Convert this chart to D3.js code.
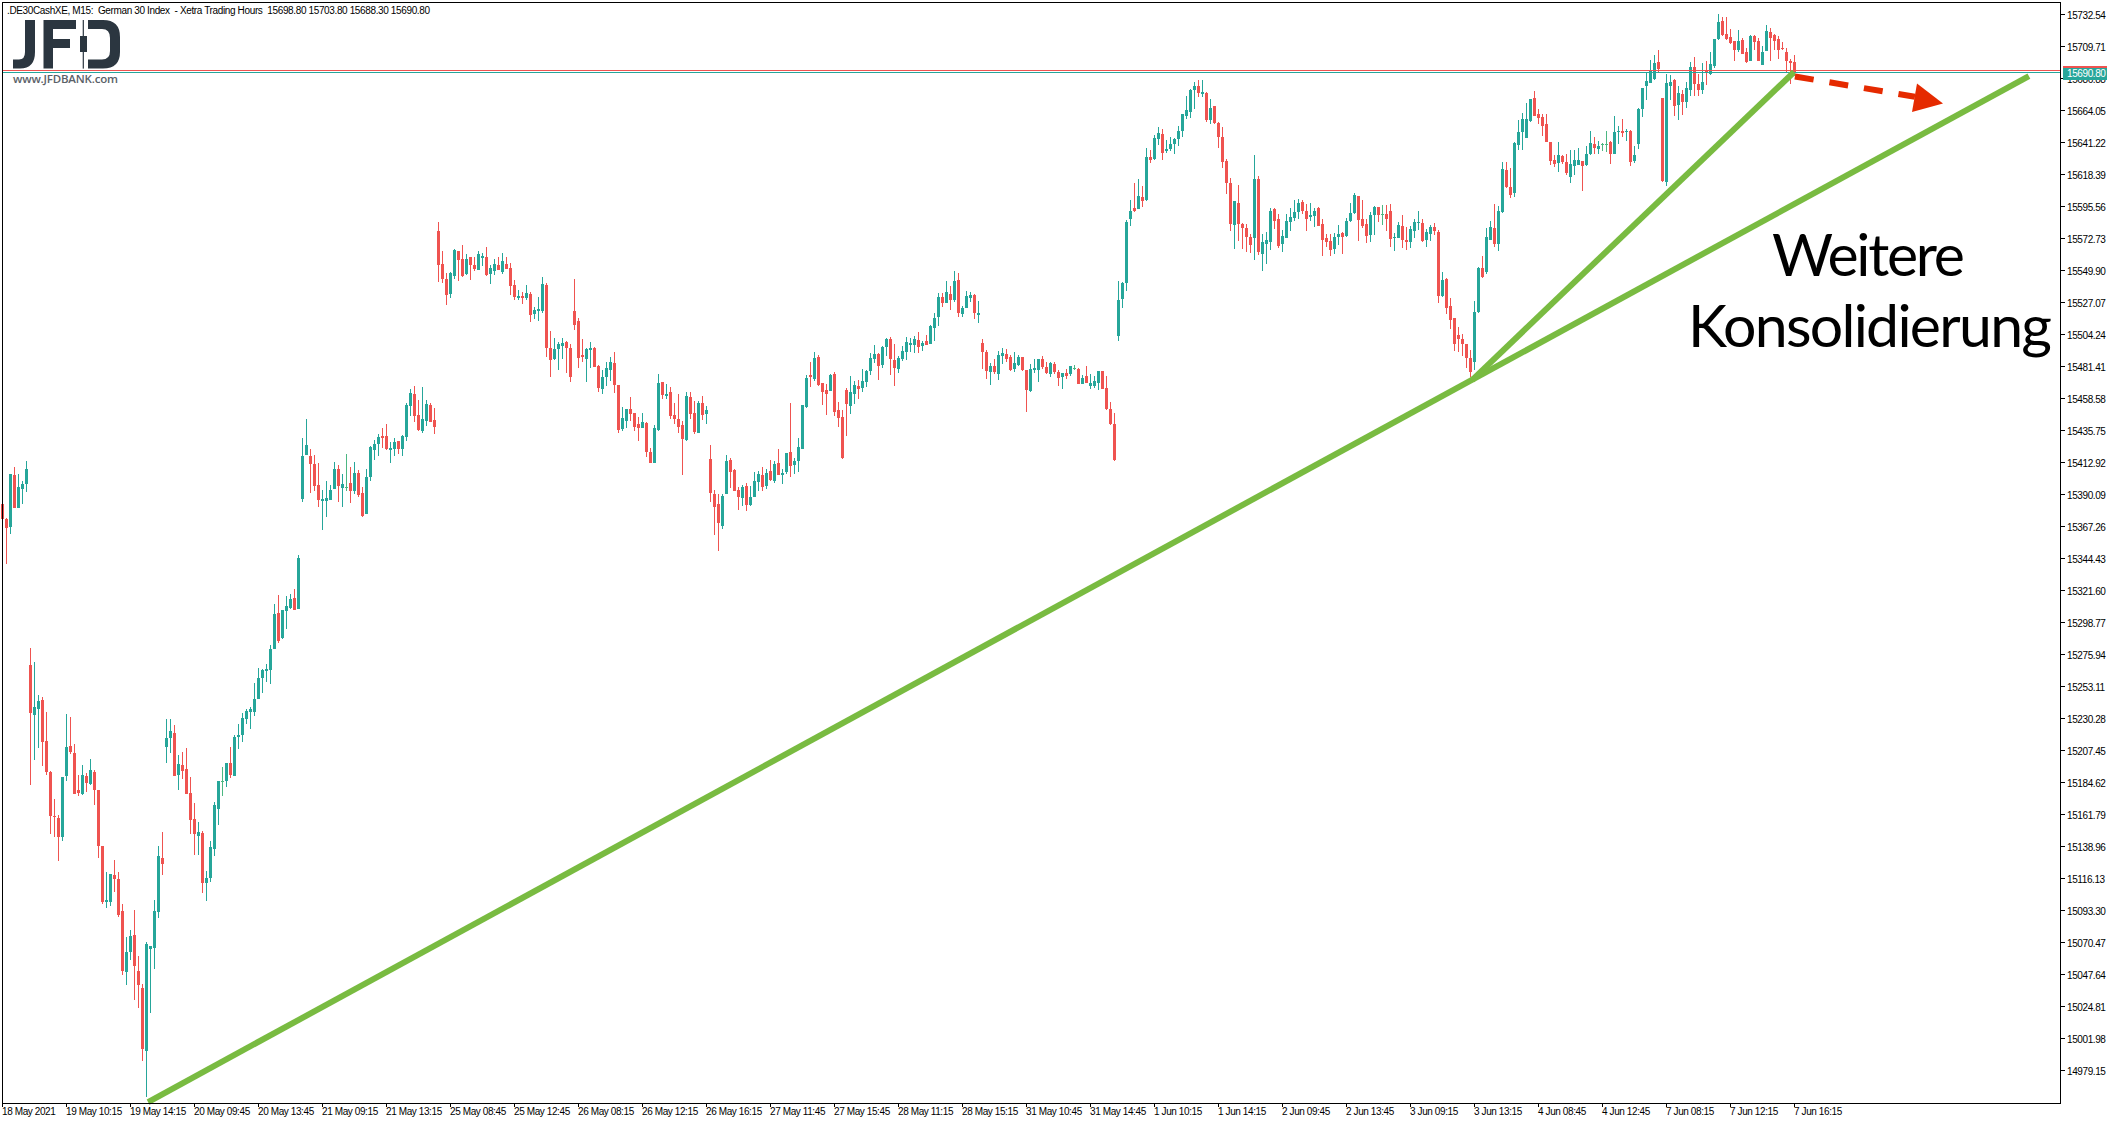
<!DOCTYPE html>
<html><head><meta charset="utf-8">
<script src="https://cdn.jsdelivr.net/npm/d3@7/dist/d3.min.js"></script>
<style>
html,body{margin:0;padding:0;background:#fff;overflow:hidden}
svg{display:block}
text{font-family:"Liberation Sans",Arial,sans-serif;white-space:pre}
</style></head><body><div id="chart"></div>
<script>
// Every row is one M15 candle: open, high, low, close
const session1=[[15383.5,15383.5,15372.8,15372.8],[15372.8,15373.3,15340.6,15366.1],[15366.6,15404.5,15361.8,15404.5],[15404,15409.7,15380.5,15380.5],[15380.5,15404.5,15380.5,15395.3],[15393.8,15399.7,15383.3,15397.4],[15397.6,15414,15391.7,15408.4]];
const session2=[[15268.4,15280.5,15182.7,15234.4],[15232.4,15270.5,15200.6,15238.5],[15237,15246.9,15209.3,15242.6],[15243.4,15245.4,15196.3,15213.4],[15214.2,15234.9,15190.1,15192.2],[15192.2,15192.7,15147.9,15160.7],[15160.7,15172.7,15145.3,15159.9],[15159.2,15161.4,15128.2,15145.3],[15145.3,15188.6,15143,15188.6],[15189.1,15233.4,15185.2,15209.8],[15210.6,15231.3,15205,15206.2],[15205.5,15212.2,15176.3,15176.3],[15179.1,15190.1,15175,15177.1],[15176.3,15197,15175.3,15189.9],[15189.1,15191.4,15177.8,15184.2],[15183.7,15201.4,15182.9,15193.4],[15192.2,15193.4,15168.6,15179.1],[15179.1,15179.1,15130.7,15139.2],[15139.2,15139.2,15098,15099.5],[15099.5,15120.7,15094.6,15100.8],[15099.5,15119.2,15096.2,15119.2],[15118.7,15129.2,15106.4,15115.9],[15115.9,15120.7,15088.2,15090],[15092.8,15098,15047.3,15050.1],[15049.6,15074.4,15040.1,15063.6],[15063.6,15079.5,15058,15075.2],[15075.9,15093.6,15029.6,15053.7],[15050.1,15060.8,15023.7,15040.1],[15038,15040.9,14986.1,14994.5],[14993.2,15070.8,14960.2,15069.5],[15066,15068,15020.1,15068],[15066.5,15100.8,15051.6,15092.8],[15092.3,15139.2,15088,15132.3],[15130.7,15149.2,15118.7,15126.4]];
const session3=[[15209.8,15229.8,15198.6,15216.2],[15216.2,15229.8,15205.5,15221.3],[15219.8,15225.4,15189.1,15189.1],[15189.9,15204.2,15179.1,15197.8],[15197,15206.2,15187,15192.7],[15194.2,15209.1,15176.3,15176.3],[15177.1,15188.6,15147.9,15157.9],[15158.6,15169.9,15132.5,15147.9],[15146.3,15156.3,15132.5,15149.2],[15148.6,15149.9,15105.9,15112.8],[15112.8,15121.5,15100,15116.4],[15116.4,15143,15113.6,15138.7],[15137.2,15170.4,15132.3,15168.6],[15165.8,15185.5,15154.3,15185.5],[15185.5,15195.2,15175,15185.5],[15185.5,15198.6,15181.4,15198.6],[15198.6,15209.8,15187.8,15189.9],[15189.1,15218.5,15189.1,15217],[15217,15226.2,15208.5,15218.5],[15218.5,15234.2,15213.4,15230.6],[15229.8,15237.2,15226.2,15235.7],[15234.9,15238,15222.4,15237],[15234.9,15255.4,15231.8,15244.2],[15244.2,15266.2,15244.2,15259],[15259,15265.4,15248.5,15264.4],[15264.1,15269.2,15256.2,15265.4],[15264.9,15282.3,15254.9,15279.7],[15279.7,15311.7,15279.7,15304.8],[15305.3,15318.6,15284.1,15285.3],[15287.6,15307.6,15286.9,15307.6],[15306.8,15317.6,15294,15310.4],[15308.9,15318.9,15308.4,15315.3],[15316.1,15322.2,15307.6,15307.6],[15308.6,15347,15308.6,15345]];
const session4=[[15386.7,15430.4,15384.6,15417.4],[15418.2,15444,15418.2,15425.1],[15417.4,15422.3,15391,15412],[15411.5,15418.2,15392.3,15395.9],[15396.7,15412.5,15380.8,15385.9],[15385.1,15393.1,15364.4,15386.7],[15385.1,15399.5,15373.6,15387.2],[15385.9,15396.7,15385.9,15393.1],[15393.8,15413,15393.8,15408.2],[15408.2,15411,15384.4,15395.9],[15394.6,15404.6,15380.8,15397.2],[15395.6,15418.9,15392.3,15395.6],[15398.2,15409.5,15383.9,15392.8],[15392.3,15413,15390.5,15405.3],[15405.3,15407.4,15388.5,15389.3],[15391,15395.1,15373.6,15374.4],[15375.7,15408.2,15375.7,15402.3],[15402.3,15424.3,15399.5,15423.8],[15421.7,15428.7,15414.6,15426.1],[15426.1,15433,15417.4,15431],[15431.7,15437.4,15423,15430.4],[15431.7,15440.4,15421.7,15422.5],[15421.7,15427.4,15412.6,15423],[15422.5,15430.2,15417.4,15427.4],[15428.1,15428.1,15418.9,15422.5],[15422.5,15432.5,15417.4,15431.7],[15431,15455.5,15428.1,15454],[15453.2,15465.5,15446.1,15462.7],[15461.9,15467.6,15441.7,15446.1],[15446.8,15457.6,15435.3,15436.1],[15435.3,15466.3,15434,15444],[15442.5,15457.1,15439.1,15454.8],[15454,15455.5,15441.7,15441.7],[15443.3,15451.9,15433.3,15438.1]];
const session5=[[15578,15584.4,15541.8,15553.7],[15554.4,15563.7,15541.1,15543.7],[15543.7,15548,15525.2,15532.3],[15533,15548.7,15530.2,15548],[15545.8,15565.1,15543.7,15564.4],[15563.7,15563.7,15542.3,15557.2],[15558,15568,15545.1,15545.8],[15547.3,15561.5,15546.5,15558],[15559.4,15559.4,15543,15553.7],[15553.7,15559.4,15549.4,15550.8],[15550.1,15563.7,15550.1,15561.5],[15558.7,15562.2,15553,15560],[15559.4,15566.5,15545.8,15546.5],[15547.3,15553.7,15540.1,15551.5],[15549.4,15558,15546.5,15554.4],[15553.7,15559.4,15550.1,15550.1],[15548.7,15562.2,15547.3,15556.5],[15554.4,15559.4,15550.8,15550.8],[15551.5,15555.1,15532.3,15538.7],[15539.4,15543,15528.7,15530.8],[15530.2,15535.8,15528.7,15531.5],[15531.5,15534.4,15525.8,15530.2],[15530.2,15539.4,15528.7,15533.7],[15533,15534.4,15513,15518],[15518.7,15523.7,15515.2,15521.6],[15520.9,15530.8,15513.7,15522.3],[15520.9,15545.1,15519.4,15540.1],[15539.4,15540.8,15488,15494.5],[15494.5,15506.6,15473.8,15485.9],[15486.6,15501.6,15485.9,15493.8],[15493.8,15498.7,15478.8,15497.3],[15495.9,15501.6,15486.6,15498],[15498.7,15499.4,15476.6,15494.5],[15494.5,15497.3,15470.2,15473.8],[15520.9,15543.7,15507.3,15510.9],[15513.7,15515.9,15480.2,15487.3],[15489.5,15500.9,15484.5,15488],[15486.6,15494.5,15470.2,15493.8],[15493,15498.7,15480.2,15494.5],[15494.5,15495.2,15480.9,15480.9],[15481.6,15482.3,15463.1,15465.9],[15465.2,15478.8,15461.6,15473.8],[15473.8,15484.5,15467.3,15480.2],[15478.8,15488,15470.9,15484.5],[15483.8,15491.6,15462.4,15468.1],[15468.1,15468.1,15433.8,15436],[15436.7,15452.4,15435.2,15444.5],[15442.4,15450.9,15437.4,15450.9],[15450.9,15459.5,15442.4,15447.4],[15448.1,15448.1,15435.2,15438.1],[15440.2,15445.2,15428.1,15437.4],[15437.4,15448.1,15437.4,15441.7],[15441,15441.7,15416.7,15420.3],[15420.3,15423.1,15412.4,15412.4],[15412.4,15439.5,15412.4,15437.4],[15436,15475.9,15435.2,15469.5],[15470.2,15470.2,15458.1,15460.9],[15460.2,15468.8,15458.1,15461.6],[15463.1,15466.6,15443.8,15446],[15446.7,15455.2,15440.2,15443.8],[15443.8,15461.6,15433.8,15438.1],[15439.5,15442.4,15403.9,15429.5],[15428.8,15463.1,15428.1,15460.2],[15459.5,15463.1,15443.8,15447.4],[15448.1,15456.7,15433.1,15434.5],[15433.8,15456.7,15433.8,15455.2],[15455.2,15460.2,15443.1,15446.7],[15447.4,15453.1,15440.2,15450.2]];
const session6=[[15415.3,15425.3,15384.6,15391],[15390.3,15393.2,15361,15381],[15383.2,15390.3,15349.6,15369.6],[15367.5,15390.3,15365.3,15388.9],[15390.3,15418.1,15390.3,15413.9],[15414.5,15416,15394.6,15406],[15407.4,15408.2,15392.4,15392.4],[15393.2,15395.3,15378.9,15388.2],[15387.4,15396.7,15381.7,15395.3],[15396,15398.2,15378.2,15382.5],[15382.5,15396,15381.8,15388.2],[15388.2,15406,15388.2,15399.6],[15398.9,15406.7,15392.5,15404.6],[15403.9,15409.6,15392.5,15395.3],[15396,15408.2,15393.9,15405.3],[15406.7,15414.6,15399.6,15400.3],[15399.6,15413.9,15398.2,15411.7],[15412.4,15422.4,15403.9,15403.9],[15403.9,15408.2,15397.5,15405.3],[15406,15419.6,15404.6,15419.6],[15420.3,15455.2,15402.5,15410.3],[15411,15416,15404.6,15413.9],[15413.9,15430.3,15406,15423.9],[15422.4,15453.8,15422.4,15453.8],[15452.4,15475.2,15451.7,15473.1],[15475.2,15484.5,15466.7,15473.8],[15472.4,15491.6,15470.9,15487.4],[15488.1,15489.5,15467.4,15468.1],[15469.5,15469.5,15453.8,15463.1],[15464.5,15468.8,15446.7,15461.7],[15463.8,15475.9,15463.8,15475.2],[15475.9,15477.4,15446,15448.8],[15450.3,15456,15438.1,15444.5],[15445.3,15450.3,15415.3,15416],[15464.5,15465.9,15431.7,15454.5],[15453.1,15474.5,15447.4,15463.1],[15461.7,15470.9,15454.5,15468.1],[15467.4,15471.7,15458.1,15465.2],[15465.9,15479.5,15463.1,15470.9],[15470.2,15478.8,15466.7,15478.1],[15478.1,15490.9,15475.2,15487.4],[15486.6,15496.6,15483.8,15490.2],[15490.2,15490.9,15471.7,15481.6],[15482.4,15495.9,15480.2,15495.2],[15495.2,15501.6,15488.8,15500.9],[15500.9,15502.3,15475.2,15486.6],[15485.9,15497.3,15467.4,15480.2],[15479.5,15488.8,15476.6,15487.4],[15486.6,15495.9,15485.2,15492.3],[15491.6,15502.3,15485.9,15498.8],[15496.6,15501.6,15491.6,15498.1],[15496.6,15503,15490.9,15500.9],[15500.2,15505.9,15490.9,15495.2],[15495.9,15499.5,15492.3,15498.1],[15499.5,15503.8,15496.6,15496.6],[15497.3,15510.9,15497.3,15510.2],[15508.8,15519.5,15499.5,15515.9],[15516.6,15533.7,15510.2,15530.9],[15530.9,15533.7,15523.7,15526.6],[15526.6,15542.3,15526.6,15534.4],[15533,15538.7,15521.6,15528.7],[15528.7,15549.4,15527.3,15542.3],[15543,15548,15516.6,15519.5],[15518.7,15524.4,15516.6,15523],[15523,15535.1,15523,15531.6],[15530.2,15534.4,15527.3,15532.3],[15532.3,15533,15515.1,15519.5],[15518,15528,15512.3,15519.5]];
const session7=[[15498.1,15500.9,15479.5,15491.6],[15491.6,15493.1,15472.4,15478.1],[15477.4,15483.8,15468.1,15481.6],[15481.6,15486.6,15475.9,15477.4],[15475.9,15492.3,15471.7,15489.5],[15488.8,15494.5,15483.1,15490.9],[15490.2,15493.8,15484.5,15486.6],[15488.1,15489.5,15478.1,15478.8],[15479.5,15491.6,15477.4,15483.8],[15482.4,15489.5,15481.6,15488.1],[15488.1,15488.1,15478.1,15478.8],[15478.8,15478.8,15448.8,15464.5],[15463.8,15483.1,15463.1,15479.5],[15478.8,15486.6,15476.6,15480.2],[15478.8,15486.6,15470.2,15486.6],[15486.6,15488.8,15479.5,15480.9],[15480.9,15484.5,15475.9,15476.6],[15475.9,15484.5,15473.8,15483.8],[15483.1,15484.5,15475.9,15477.4],[15477.4,15478.8,15467.4,15473.1],[15473.8,15476.6,15465.2,15476.6],[15476.6,15479.5,15472.4,15474.5],[15475.9,15481.6,15474.5,15481.6],[15480.1,15482.4,15478.8,15480.1],[15479.5,15480.2,15468.8,15468.8],[15468.8,15475.2,15468.8,15473.1],[15474.5,15481.6,15469.5,15469.5],[15467.4,15475.9,15465.2,15469.5],[15467.4,15474.5,15465.9,15470.9],[15469.5,15478.1,15464.5,15478.1],[15478.1,15478.1,15465.2,15465.2],[15465.9,15474.5,15450.3,15450.9],[15450.9,15456,15439.6,15440.3],[15440.3,15448.1,15413.9,15414.6]];
const session8=[[15503,15542.3,15499.5,15528.7],[15529.4,15541.6,15523,15540.8],[15540.8,15585.8,15535.1,15584.4],[15586.5,15600.1,15581.5,15592.2],[15594.3,15612.2,15591.5,15592.2],[15593.6,15615,15593.6,15602.9],[15602.2,15610,15595.1,15599.3],[15600.1,15637.2,15599.3,15630.7],[15630.7,15635.7,15626.5,15628.6],[15629.3,15646.4,15628.6,15644.3],[15643.6,15652.1,15639.3,15647.9],[15647.1,15650.7,15628.6,15633.6],[15635,15642.9,15633.6,15636.4],[15636.4,15645,15635,15640],[15640,15644.3,15632.9,15643.6],[15643.6,15652.8,15638.6,15649.3],[15649.3,15661.4,15645,15661.4],[15660,15674.3,15657.8,15664.3],[15662.8,15679.2,15658.6,15678.5],[15678.5,15684.2,15665,15681.4],[15681.4,15685.7,15673.5,15676.4],[15675.7,15685.7,15673.5,15677.1],[15676.4,15677.1,15655.7,15657.1],[15657.1,15672.1,15654.3,15665.7],[15667.1,15667.1,15654.3,15655],[15655,15655.7,15637.2,15645],[15645,15652.1,15622.9,15627.2],[15627.9,15629.3,15604.3,15612.2],[15612.2,15615.8,15577.9,15582.9],[15582.2,15599.3,15565.1,15599.3],[15597.9,15610.8,15570.8,15582.9],[15582.9,15583.6,15565.1,15580.1],[15580.1,15582.9,15563,15573.7],[15573.7,15575.8,15562.2,15568],[15572.9,15632.2,15557.3,15615],[15615,15617.2,15560.8,15563]];
const session9=[[15561.5,15575.8,15549.4,15570.1],[15568.7,15577.2,15554.4,15571.5],[15570.1,15594.3,15564.4,15592.2],[15593.6,15594.3,15579.4,15585.1],[15586.5,15590.1,15565.8,15567.2],[15568.7,15578.7,15563,15574.4],[15572.9,15590.1,15572.9,15585.1],[15584.4,15594.3,15577.9,15587.9],[15587.2,15600.1,15585.1,15591.5],[15591.5,15600.8,15586.5,15597.9],[15598.6,15600.1,15590.1,15592.2],[15592.2,15597.2,15577.9,15586.5],[15587.9,15597.9,15585.1,15589.4],[15588.6,15594.3,15580.8,15592.2],[15594.3,15595.1,15581.5,15581.5],[15582.9,15586.5,15560.1,15571.5],[15572.9,15575.8,15566.5,15570.1],[15570.8,15575.8,15560.1,15564.4],[15565.1,15576.5,15561.5,15573.7],[15573.7,15582.2,15568,15575.8],[15576.5,15577.2,15561.5,15573.7],[15574.4,15587.2,15573.7,15585.1],[15585.1,15597.9,15584.4,15590.8],[15590.8,15605,15590.1,15603.6],[15602.9,15602.9,15570.8,15585.8],[15586.5,15600.1,15580.1,15581.5],[15582.9,15586.5,15569.4,15574.4],[15575.1,15591.5,15570.1,15589.4],[15589.4,15595.8,15575.1,15595.1],[15595.1,15595.1,15584.4,15589.4],[15589.8,15596.5,15582.2,15589.8],[15590.1,15596.5,15577.9,15586.5],[15592.2,15597.2,15566.5,15572.2],[15572.9,15576.5,15563.7,15573.7],[15572.9,15584.4,15572.9,15582.2],[15581.5,15589.4,15565.8,15571.5],[15571.5,15580.8,15564.4,15570.1],[15570.1,15581.5,15565.8,15579.4],[15577.9,15586.5,15572.9,15584.4],[15583.6,15592.2,15578.7,15584.4],[15583.6,15586.5,15570.1,15570.8],[15571.5,15579.4,15566.5,15577.2],[15575.8,15582.2,15570.8,15580.8],[15580.8,15583.6,15575.1,15577.9]];
const session10=[[15577.2,15578.7,15526.6,15531.6],[15531.6,15548.7,15530.8,15543],[15543.7,15544.4,15518.7,15523],[15524.4,15530.1,15508,15514.4],[15515.9,15515.9,15492.3,15497.3],[15503.7,15509.4,15491.6,15500.9],[15500.9,15504.4,15488.7,15497.3],[15497.3,15497.3,15480.2,15487.3],[15487.3,15493,15473.7,15477.3],[15484.7,15528,15478.7,15519.9],[15519.9,15552,15519.2,15551.3],[15551.5,15560.1,15544.4,15545.1],[15548.7,15580,15547.2,15573.6],[15571.5,15585,15571.5,15580.7],[15580,15597.2,15566.5,15568.6],[15568.6,15595.7,15563.9,15592.2],[15591.5,15627.1,15590.5,15622.1],[15621.4,15627.1,15608.6,15609.3],[15609.3,15622.8,15601.4,15603.6],[15605,15641.4,15602.2,15640.7],[15639.3,15657.1,15635.7,15648.5],[15648.5,15662.1,15635.7,15657.8],[15644.2,15669,15644.2,15657.8],[15656.4,15672.1,15655.7,15672.1],[15672.8,15677.8,15660,15660],[15661.4,15664.9,15654.2,15658.5],[15659.2,15661.4,15645.7,15652.8],[15654.2,15661.4,15641.4,15641.4],[15641.4,15641.4,15625,15627.9],[15628.6,15632.1,15623.6,15625.7],[15626.4,15641.4,15620,15632.1],[15631.4,15632.1,15625.7,15627.1],[15626.9,15632.8,15617.9,15619.3],[15616.4,15635.7,15612.1,15625.7],[15624.3,15635.7,15617.9,15628.6],[15625,15637.1,15625,15628.6],[15627.9,15627.9,15606.4,15624.3],[15625,15638.5,15624.3,15632.8],[15632.8,15649.2,15632.1,15640.7],[15640,15645,15632.8,15637.1],[15636.4,15642.1,15632.8,15638.5],[15639.7,15640.7,15635,15639.7],[15639.7,15649.2,15634.3,15639.7],[15641.4,15642.1,15625.7,15632.8],[15632.8,15660,15632.8,15648.5],[15648.5,15652.8,15640,15649.2],[15649.2,15657.8,15645,15647.8],[15648.5,15650.7,15642.1,15649.2],[15649.2,15650,15624.3,15627.1],[15627.9,15638.5,15626.4,15632.1],[15640,15665.7,15636.4,15665],[15665,15679.9,15659.2,15679.9],[15681.4,15690.6,15671.4,15684.9],[15683.5,15699.9,15683.5,15692],[15686.4,15703.5,15685.6,15697.8],[15698.5,15707,15691.4,15693.5]];
const session11=[[15672.8,15672.8,15612.9,15613.6],[15612.9,15689.9,15610,15683.5],[15681.4,15689.2,15671.4,15684.2],[15685.6,15686.4,15660,15667.1],[15667.8,15681.4,15657.1,15676.4],[15675.6,15678.5,15660.7,15669.9],[15669.9,15684.2,15665.7,15679.9],[15678.5,15698.5,15674.2,15694.9],[15694.9,15702,15674.2,15682.8],[15682.8,15690,15674.2,15678.5],[15678.5,15697.8,15675.6,15684.2],[15692.8,15699.2,15682.1,15690.6],[15689.9,15705.6,15689.2,15697],[15695.6,15714.9,15694.2,15714.9],[15714.9,15732.7,15714.2,15727],[15727.8,15730.6,15717,15717.7],[15718.5,15730.6,15714.2,15714.9],[15716.3,15722,15711.3,15712],[15713.5,15713.5,15699.2,15707],[15707,15721.3,15705.6,15713.5],[15714.2,15715.6,15704.2,15704.2],[15705.6,15708.5,15697.8,15698.5],[15699.2,15717.7,15699.2,15717],[15717,15717.7,15707,15712.7],[15713.5,15715.6,15699.2,15699.2],[15696.3,15709.9,15696.3,15705.6],[15706.3,15724.9,15706.3,15720.6],[15719.9,15722.7,15699.2,15715.6],[15717.7,15718.4,15707,15713.5],[15714.9,15717,15700.6,15707],[15708.5,15712.7,15707,15707.7],[15705.6,15708.5,15690.6,15699.2],[15699.2,15700.6,15682.8,15697.8],[15698.8,15703.8,15688.3,15690.8]];

const priceTicks=["15732.54","15709.71","15686.88","15664.05","15641.22","15618.39","15595.56","15572.73","15549.90","15527.07","15504.24","15481.41","15458.58","15435.75","15412.92","15390.09","15367.26","15344.43","15321.60","15298.77","15275.94","15253.11","15230.28","15207.45","15184.62","15161.79","15138.96","15116.13","15093.30","15070.47","15047.64","15024.81","15001.98","14979.15"];
const timeTicks=["18 May 2021","19 May 10:15","19 May 14:15","20 May 09:45","20 May 13:45","21 May 09:15","21 May 13:15","25 May 08:45","25 May 12:45","26 May 08:15","26 May 12:15","26 May 16:15","27 May 11:45","27 May 15:45","28 May 11:15","28 May 15:15","31 May 10:45","31 May 14:45","1 Jun 10:15","1 Jun 14:15","2 Jun 09:45","2 Jun 13:45","3 Jun 09:15","3 Jun 13:15","4 Jun 08:45","4 Jun 12:45","7 Jun 08:15","7 Jun 12:15","7 Jun 16:15"];
const chartTitle=".DE30CashXE, M15:  German 30 Index  - Xetra Trading Hours  15698.80 15703.80 15688.30 15690.80";
const bidPrice=15690.8, askPrice=15692.3;
// Drawn trend lines, as [candle index, price]
const trendLong=[[36.4,14956.5],[506.6,15688.5]];
const trendShort=[[367.4,15471.6],[447.9,15691.4]];
const arrowPath=[[448.1,15688.2],[478.1,15673.7]];

const candles=[session1,session2,session3,session4,session5,session6,session7,session8,session9,session10,session11].flat();

const W=2118,H=1123,plotLeft=2,plotTop=2,plotRight=2060,plotBottom=1103;
const x=d3.scaleLinear().domain([0,448]).range([2.5,1794.5]);
const y=d3.scaleLinear().domain([15732.54,14979.15]).range([14.3,1070.3]);
const TEAL="#26a69a",RED="#ef5350",DOJI="#4cb782",GREEN="#79bb41",ARROW="#e52a00",INK="#000";

const svg=d3.select("#chart").append("svg").attr("width",W).attr("height",H).attr("viewBox",`0 0 ${W} ${H}`);
svg.append("rect").attr("width",W).attr("height",H).attr("fill","#fff");

// logo
const logo=svg.append("g").attr("fill","#2b3640");
logo.append("path").attr("d","M25 20H35V52Q35 68.6 20 68.6H13V59.5H19Q25 59.5 25 52Z");
logo.append("path").attr("d","M43.5 20H76V29H53V39H70V48H53V68.6H43.5Z");
logo.append("rect").attr("x",82.7).attr("y",20).attr("width",1.2).attr("height",48.6);
logo.append("rect").attr("x",80).attr("y",36).attr("width",7).attr("height",16);
logo.append("path").attr("d","M88 20H103Q120 20 120 37V52Q120 68.6 103 68.6H88V59.5H102Q110 59.5 110 51V38Q110 29 102 29H88Z");
svg.append("text").attr("x",13).attr("y",83).attr("font-size",11.5).attr("font-weight",600).attr("fill","#5a6168").attr("textLength",105).style("font-family","'Open Sans',sans-serif").text("www.JFDBANK.com");

// candles
const color=d=>d[3]===d[0]?DOJI:(d[3]<d[0]?RED:TEAL);
const plot=svg.append("g").attr("shape-rendering","crispEdges");
const c=plot.selectAll("g").data(candles).join("g").attr("fill",color);
c.append("rect").attr("x",(d,i)=>Math.floor(x(i))).attr("width",1)
 .attr("y",d=>Math.round(y(d[1]))).attr("height",d=>Math.max(1,Math.round(y(d[2]))-Math.round(y(d[1]))));
c.append("rect").attr("x",(d,i)=>Math.floor(x(i))-1).attr("width",3)
 .attr("y",d=>Math.round(y(Math.max(d[0],d[3])))).attr("height",d=>Math.max(1,Math.round(y(Math.min(d[0],d[3])))-Math.round(y(Math.max(d[0],d[3])))));

// price lines
svg.append("g").attr("shape-rendering","crispEdges").selectAll("rect").data([[askPrice,RED],[bidPrice,TEAL]]).join("rect")
 .attr("x",plotLeft).attr("width",plotRight-plotLeft).attr("y",d=>Math.floor(y(d[0]))).attr("height",1).attr("fill",d=>d[1]);

// trend lines
const line=d3.line().x(d=>x(d[0])).y(d=>y(d[1]));
svg.append("g").attr("fill","none").attr("stroke",GREEN).attr("stroke-width",6).selectAll("path").data([trendLong,trendShort]).join("path").attr("d",line);
svg.append("path").attr("d",line(arrowPath)).attr("fill","none").attr("stroke",ARROW).attr("stroke-width",6).attr("stroke-dasharray","19 16");
const tip=[1943,103.5],b1=[1917,83.5],b2=[1912,112];
svg.append("polygon").attr("points",[tip,b1,b2].map(p=>p.join(",")).join(" ")).attr("fill",ARROW);

// annotation
const note=svg.append("g").attr("fill","#000").attr("font-size",59);
note.append("text").attr("x",1772).attr("y",276).attr("textLength",193).style("font-family","Lato,sans-serif").text("Weitere");
note.append("text").attr("x",1688).attr("y",347).attr("textLength",364).style("font-family","Lato,sans-serif").text("Konsolidierung");

// frame
const frame=svg.append("g").attr("fill",INK).attr("shape-rendering","crispEdges");
frame.append("rect").attr("x",plotLeft).attr("y",plotTop).attr("width",plotRight-plotLeft+1).attr("height",1);
frame.append("rect").attr("x",plotLeft).attr("y",plotTop).attr("width",1).attr("height",plotBottom-plotTop+1);
frame.append("rect").attr("x",plotRight).attr("y",plotTop).attr("width",1).attr("height",plotBottom-plotTop+1);
frame.append("rect").attr("x",plotLeft).attr("y",plotBottom).attr("width",plotRight-plotLeft+1).attr("height",1);

// axes
const pr=svg.append("g");
pr.selectAll("rect").data(priceTicks).join("rect").attr("x",plotRight).attr("width",5).attr("height",1).attr("shape-rendering","crispEdges").attr("y",d=>Math.round(y(+d))).attr("fill",INK);
pr.selectAll("text").data(priceTicks).join("text").attr("x",plotRight+7).attr("y",d=>y(+d)+4.8).attr("font-size",10).attr("letter-spacing",-0.4).attr("fill",INK).text(d=>d);
const tm=svg.append("g");
tm.selectAll("rect").data(timeTicks).join("rect").attr("x",(d,i)=>Math.floor(x(i*16))).attr("y",plotBottom).attr("width",1).attr("height",4).attr("shape-rendering","crispEdges").attr("fill",INK);
tm.selectAll("text").data(timeTicks).join("text").attr("x",(d,i)=>Math.floor(x(i*16))).attr("y",plotBottom+12).attr("font-size",10).attr("letter-spacing",-0.4).attr("fill",INK).text(d=>d);

svg.append("text").attr("x",7).attr("y",13.5).attr("font-size",10).attr("textLength",423).attr("fill",INK).text(chartTitle);

// last price tag
const tag=svg.append("g").attr("shape-rendering","crispEdges");
const yb=Math.floor(y(bidPrice));
tag.append("rect").attr("x",plotRight+3).attr("y",yb-6).attr("width",44).attr("height",2).attr("fill",RED);
tag.append("rect").attr("x",plotRight+3).attr("y",yb-4).attr("width",44).attr("height",12).attr("fill",TEAL);
svg.append("text").attr("x",plotRight+7).attr("y",yb+5).attr("font-size",10).attr("letter-spacing",-0.4).attr("fill","#fff").text("15690.80");
</script></body></html>
